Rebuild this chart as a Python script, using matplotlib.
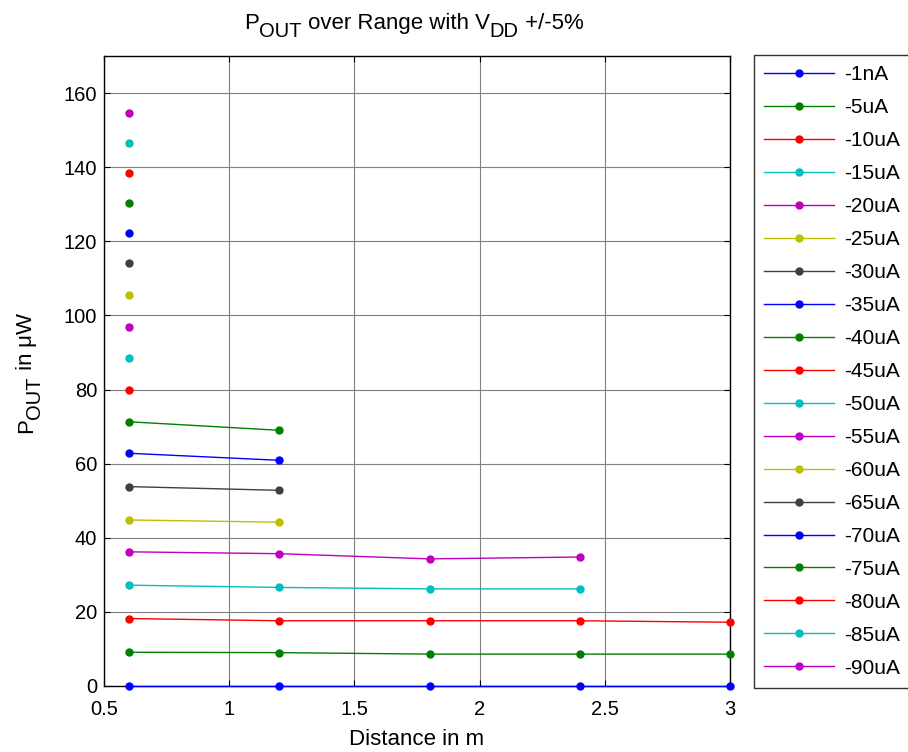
import numpy as np
import matplotlib
matplotlib.use("Agg")
import matplotlib.pyplot as plt
from matplotlib.transforms import IdentityTransform

plt.rcParams['font.family'] = ['Liberation Sans', 'DejaVu Sans']

# distances (m)
distance = [0.6, 1.2, 1.8, 2.4, 3.0]

labels = ['-1nA', '-5uA', '-10uA', '-15uA', '-20uA', '-25uA', '-30uA', '-35uA',
          '-40uA', '-45uA', '-50uA', '-55uA', '-60uA', '-65uA', '-70uA', '-75uA',
          '-80uA', '-85uA', '-90uA']

# P_OUT in uW for each load current (only measured points)
p_1n = [0.0, 0.0, 0.0, 0.0, 0.0]
p_5u = [9.1, 9.0, 8.6, 8.6, 8.6]
p_10u = [18.2, 17.6, 17.6, 17.6, 17.2]
p_15u = [27.2, 26.6, 26.2, 26.2]
p_20u = [36.2, 35.7, 34.3, 34.8]
p_25u = [44.8, 44.2]
p_30u = [53.8, 52.8]
p_35u = [62.8, 60.9]
p_40u = [71.3, 69.0]
p_45u = [79.9]
p_50u = [88.5]
p_55u = [96.9]
p_60u = [105.5]
p_65u = [114.1]
p_70u = [122.2]
p_75u = [130.3]
p_80u = [138.3]
p_85u = [146.5]
p_90u = [154.6]

series = [p_1n, p_5u, p_10u, p_15u, p_20u, p_25u, p_30u, p_35u, p_40u, p_45u,
          p_50u, p_55u, p_60u, p_65u, p_70u, p_75u, p_80u, p_85u, p_90u]

# matlab default line colours
colors = ['#0000ff', '#008000', '#ff0000', '#00bfbf', '#bf00bf', '#bfbf00', '#404040']


def rich_text(fig, x, y, pieces, vertical=False):
    # pieces: (text, fontsize, baseline drop in px); centred on x (or y if vertical)
    renderer = fig.canvas.get_renderer()
    texts = []
    pos = 0.0
    for s, size, drop in pieces:
        if vertical:
            t = fig.text(x + drop, y + pos, s, fontsize=size, rotation=90,
                         rotation_mode='anchor', ha='left', va='baseline',
                         transform=IdentityTransform())
            w = t.get_window_extent(renderer).height
        else:
            t = fig.text(x + pos, y - drop, s, fontsize=size, ha='left',
                         va='baseline', transform=IdentityTransform())
            w = t.get_window_extent(renderer).width
        texts.append(t)
        pos += w
    for t in texts:
        px, py = t.get_position()
        if vertical:
            t.set_position((px, py - pos / 2))
        else:
            t.set_position((px - pos / 2, py))


fig = plt.figure(figsize=(9.08, 7.52), dpi=100)
ax = fig.add_axes([0.1145, 0.0878, 0.6895, 0.8377])

for i, (lab, vals) in enumerate(zip(labels, series)):
    ax.plot(distance[:len(vals)], vals, '-o', color=colors[i % len(colors)],
            lw=1.0, ms=5, label=lab, clip_on=False, zorder=3)

ax.set_xlim(0.5, 3)
ax.set_ylim(0, 170)
ax.set_xticks([0.5, 1, 1.5, 2, 2.5, 3])
ax.set_xticklabels(['0.5', '1', '1.5', '2', '2.5', '3'])
ax.set_yticks(np.arange(0, 161, 20))
ax.grid(True, color='#808080', lw=0.8)
ax.tick_params(direction='in', top=True, right=True, labelsize=14.5, length=4)
ax.tick_params(axis='x', pad=10)
ax.tick_params(axis='y', pad=5)
for s in ax.spines.values():
    s.set_linewidth(1.0)

ax.set_xlabel('Distance in m', fontsize=16, labelpad=7)

fs, sub = 16, 14.5
rich_text(fig, 414, 723, [('P', fs, 0), ('OUT', sub, 8), (' over Range with V', fs, 0),
                          ('DD', sub, 8), (' +/-5%', fs, 0)])
rich_text(fig, 32, 379, [('P', fs, 0), ('OUT', sub, 8), (' in', fs, 0), (' \u03bcW', fs, 0)],
          vertical=True)

leg = fig.legend(loc='upper left', bbox_to_anchor=(754 / 908, 1 - 55 / 752),
                 fontsize=15, frameon=True, fancybox=False, edgecolor='black',
                 handlelength=3.36, labelspacing=0.67, borderpad=0.5,
                 handletextpad=0.48, borderaxespad=0)
leg.get_frame().set_linewidth(1.0)

fig.savefig('out.png', dpi=100)
